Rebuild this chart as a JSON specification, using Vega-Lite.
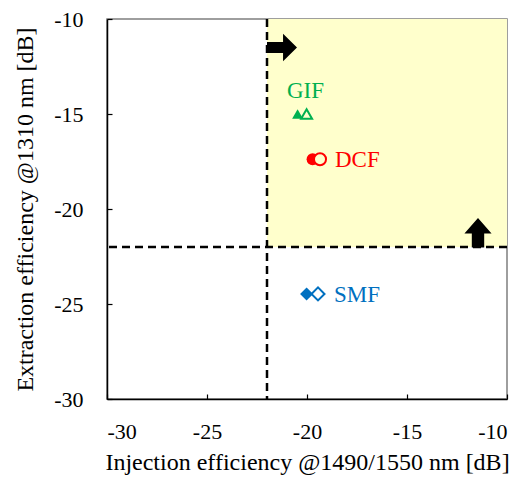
{
  "$schema": "https://vega.github.io/schema/vega-lite/v6.json",
  "width": 400,
  "height": 380,
  "autosize": "none",
  "padding": {"left": 107, "top": 19, "right": 20, "bottom": 80},
  "background": "white",
  "config": {
    "view": {"stroke": "#7f7f7f", "strokeWidth": 1.5},
    "font": "Liberation Serif",
    "axis": {
      "labelFont": "Liberation Serif",
      "titleFont": "Liberation Serif",
      "labelFontSize": 22,
      "titleFontSize": 24,
      "titleFontWeight": "normal",
      "labelColor": "black",
      "titleColor": "black",
      "domainColor": "black",
      "domainWidth": 1.5,
      "tickColor": "black",
      "tickWidth": 1.2,
      "grid": false,
      "labelExpr": "toString(datum.value)"
    }
  },
  "datasets": {
    "region": [{"x1": -22, "x2": -10, "y1": -22, "y2": -10}],
    "thresh": [{"v": -22}],
    "arrowR": [{"x": -21.25, "y": -11.5}],
    "arrowU": [{"x": -11.45, "y": -21.25}],
    "pts": [
      {"fiber": "GIF", "kind": "filled", "x": -20.47, "y": -15.0},
      {"fiber": "GIF", "kind": "open", "x": -20.02, "y": -15.0},
      {"fiber": "DCF", "kind": "filled", "x": -19.72, "y": -17.38},
      {"fiber": "DCF", "kind": "open", "x": -19.35, "y": -17.38},
      {"fiber": "SMF", "kind": "filled", "x": -20.02, "y": -24.47},
      {"fiber": "SMF", "kind": "open", "x": -19.45, "y": -24.47}
    ],
    "labels": [
      {"fiber": "GIF", "x": -21.0, "y": -13.8},
      {"fiber": "DCF", "x": -18.6, "y": -17.4},
      {"fiber": "SMF", "x": -18.65, "y": -24.5}
    ]
  },
  "layer": [
    {
      "data": {"name": "region"},
      "mark": {"type": "rect", "color": "#FFFFCC"},
      "encoding": {
        "x": {"field": "x1", "type": "quantitative", "scale": {"domain": [-30, -10], "nice": false},
          "axis": {"values": [-30, -25, -20, -15, -10], "tickSize": -5, "labelPadding": 27, "title": "Injection efficiency @1490/1550 nm [dB]", "titlePadding": 8}},
        "x2": {"field": "x2"},
        "y": {"field": "y1", "type": "quantitative", "scale": {"domain": [-30, -10], "nice": false},
          "axis": {"values": [-30, -25, -20, -15, -10], "tickSize": -5, "labelPadding": 29, "title": "Extraction efficiency @1310 nm [dB]", "titlePadding": 16}},
        "y2": {"field": "y2"}
      }
    },
    {
      "data": {"name": "thresh"},
      "mark": {"type": "rule", "color": "black", "strokeWidth": 2.5, "strokeDash": [8, 5]},
      "encoding": {"x": {"field": "v", "type": "quantitative"}}
    },
    {
      "data": {"name": "thresh"},
      "mark": {"type": "rule", "color": "black", "strokeWidth": 2.5, "strokeDash": [8, 5]},
      "encoding": {"y": {"field": "v", "type": "quantitative"}}
    },
    {
      "data": {"name": "arrowR"},
      "mark": {"type": "point", "filled": true, "color": "black", "opacity": 1, "size": 900,
        "shape": "M-1,-0.36L0.07,-0.36L0.07,-0.92L1,0L0.07,0.92L0.07,0.36L-1,0.36Z"},
      "encoding": {"x": {"field": "x", "type": "quantitative"}, "y": {"field": "y", "type": "quantitative"}}
    },
    {
      "data": {"name": "arrowU"},
      "mark": {"type": "point", "filled": true, "color": "black", "opacity": 1, "size": 870,
        "shape": "M-0.42,1L-0.42,0.05L-0.92,0.05L0,-1L0.92,0.05L0.42,0.05L0.42,1Z"},
      "encoding": {"x": {"field": "x", "type": "quantitative"}, "y": {"field": "y", "type": "quantitative"}}
    },
    {
      "data": {"name": "pts"},
      "transform": [{"filter": "datum.kind === 'filled'"}],
      "mark": {"type": "point", "filled": true, "opacity": 1, "strokeWidth": 1},
      "encoding": {
        "x": {"field": "x", "type": "quantitative"},
        "y": {"field": "y", "type": "quantitative"},
        "shape": {"field": "fiber", "type": "nominal", "scale": {"domain": ["GIF", "DCF", "SMF"], "range": ["triangle-up", "circle", "diamond"]}, "legend": null},
        "color": {"field": "fiber", "type": "nominal", "scale": {"domain": ["GIF", "DCF", "SMF"], "range": ["#00B050", "#FF0000", "#0070C0"]}, "legend": null},
        "size": {"field": "fiber", "type": "nominal", "scale": {"domain": ["GIF", "DCF", "SMF"], "range": [120, 170, 220]}, "legend": null}
      }
    },
    {
      "data": {"name": "pts"},
      "transform": [{"filter": "datum.kind === 'open'"}],
      "mark": {"type": "point", "filled": false, "opacity": 1, "strokeWidth": 2},
      "encoding": {
        "x": {"field": "x", "type": "quantitative"},
        "y": {"field": "y", "type": "quantitative"},
        "shape": {"field": "fiber", "type": "nominal", "scale": {"domain": ["GIF", "DCF", "SMF"], "range": ["triangle-up", "circle", "diamond"]}, "legend": null},
        "stroke": {"field": "fiber", "type": "nominal", "scale": {"domain": ["GIF", "DCF", "SMF"], "range": ["#00B050", "#FF0000", "#0070C0"]}, "legend": null},
        "fill": {"field": "fiber", "type": "nominal", "scale": {"domain": ["GIF", "DCF", "SMF"], "range": ["#FFFFCC", "#FFFFCC", "#FFFFFF"]}, "legend": null},
        "size": {"field": "fiber", "type": "nominal", "scale": {"domain": ["GIF", "DCF", "SMF"], "range": [95, 130, 165]}, "legend": null}
      }
    },
    {
      "data": {"name": "labels"},
      "mark": {"type": "text", "align": "left", "baseline": "middle", "font": "Liberation Serif", "fontSize": 23},
      "encoding": {
        "x": {"field": "x", "type": "quantitative"},
        "y": {"field": "y", "type": "quantitative"},
        "text": {"field": "fiber"},
        "color": {"field": "fiber", "type": "nominal", "scale": {"domain": ["GIF", "DCF", "SMF"], "range": ["#00B050", "#FF0000", "#0070C0"]}, "legend": null}
      }
    }
  ]
}
